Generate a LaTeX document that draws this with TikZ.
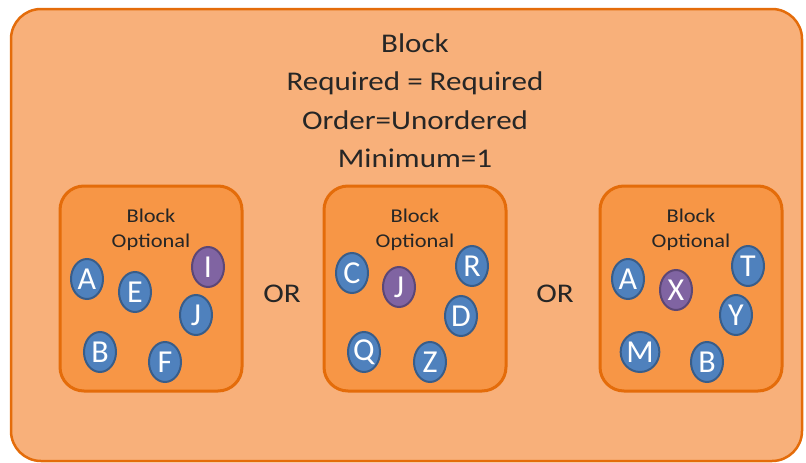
\documentclass[tikz,border=0pt]{standalone}
\usepackage{fontspec}
\setmainfont{Carlito}
\usetikzlibrary{shapes.geometric}
\definecolor{outerfill}{HTML}{F8B07A}
\definecolor{orangeline}{HTML}{E46C0A}
\definecolor{innerfill}{HTML}{F79646}
\definecolor{bluefill}{HTML}{4F81BD}
\definecolor{blueline}{HTML}{385D8A}
\definecolor{purplefill}{HTML}{8064A2}
\definecolor{purpleline}{HTML}{5C4776}
\newcommand{\wide}[1]{\scalebox{1.15}[1]{#1}}
\tikzset{
  outerbox/.style={draw=orangeline, fill=outerfill, line width=2.5pt, rounded corners=30pt},
  innerbox/.style={draw=orangeline, fill=innerfill, line width=3pt, rounded corners=24pt},
  item/.style={ellipse, draw=blueline, fill=bluefill, line width=2pt, minimum width=32pt, minimum height=40pt, inner sep=0pt, text=white, font=\fontsize{32}{32}\selectfont},
  pitem/.style={item, draw=purpleline, fill=purplefill},
  bigtext/.style={anchor=base, font=\fontsize{27}{31}\selectfont, text=black!85},
  smalltext/.style={anchor=base, font=\fontsize{19.5}{27}\selectfont, text=black!85},
}
\begin{document}
\begin{tikzpicture}[x=1pt,y=-1pt]
\useasboundingbox (0,0) rectangle (806,463);
\draw[outerbox] (11,9) rectangle (802,461);
\node[bigtext] (t1) at (415,52.5) {\wide{Block}};
\node[bigtext] (t2) at (415,90.7) {\wide{Required = Required}};
\node[bigtext] (t3) at (415,129) {\wide{Order=Unordered}};
\node[bigtext] (t4) at (415,167) {\wide{Minimum=1}};

\draw[innerbox] (60,186) rectangle (242,391);
\draw[innerbox] (324,186) rectangle (506,391);
\draw[innerbox] (600,186) rectangle (782,391);

\node[smalltext] (b1) at (151,222) {\wide{Block}};
\node[smalltext] (o1) at (151,247) {\wide{Optional}};
\node[smalltext] (b2) at (415,222) {\wide{Block}};
\node[smalltext] (o2) at (415,247) {\wide{Optional}};
\node[smalltext] (b3) at (691,222) {\wide{Block}};
\node[smalltext] (o3) at (691,247) {\wide{Optional}};

\node[bigtext] (or1) at (282,302) {\wide{OR}};
\node[bigtext] (or2) at (555,302) {\wide{OR}};

\node[item] (a1) at (87,279) {A};
\node[item] (e1) at (135,292) {E};
\node[pitem] (i1) at (208,267) {I};
\node[item] (j1) at (196,315) {J};
\node[item] (bb1) at (100,352) {B};
\node[item] (f1) at (165,362) {F};

\node[item] (c2) at (352,273) {C};
\node[pitem] (j2) at (399,287) {J};
\node[item] (r2) at (472,266) {R};
\node[item] (d2) at (461,316) {D};
\node[item] (q2) at (364,352) {Q};
\node[item] (z2) at (430,362) {Z};

\node[item] (a3) at (628,279) {A};
\node[pitem] (x3) at (676,290) {X};
\node[item] (t3b) at (748,266) {T};
\node[item] (y3) at (736,315) {Y};
\node[item] (m3) at (640,352) {M};
\node[item] (b3b) at (707,362) {B};
\end{tikzpicture}
\end{document}
